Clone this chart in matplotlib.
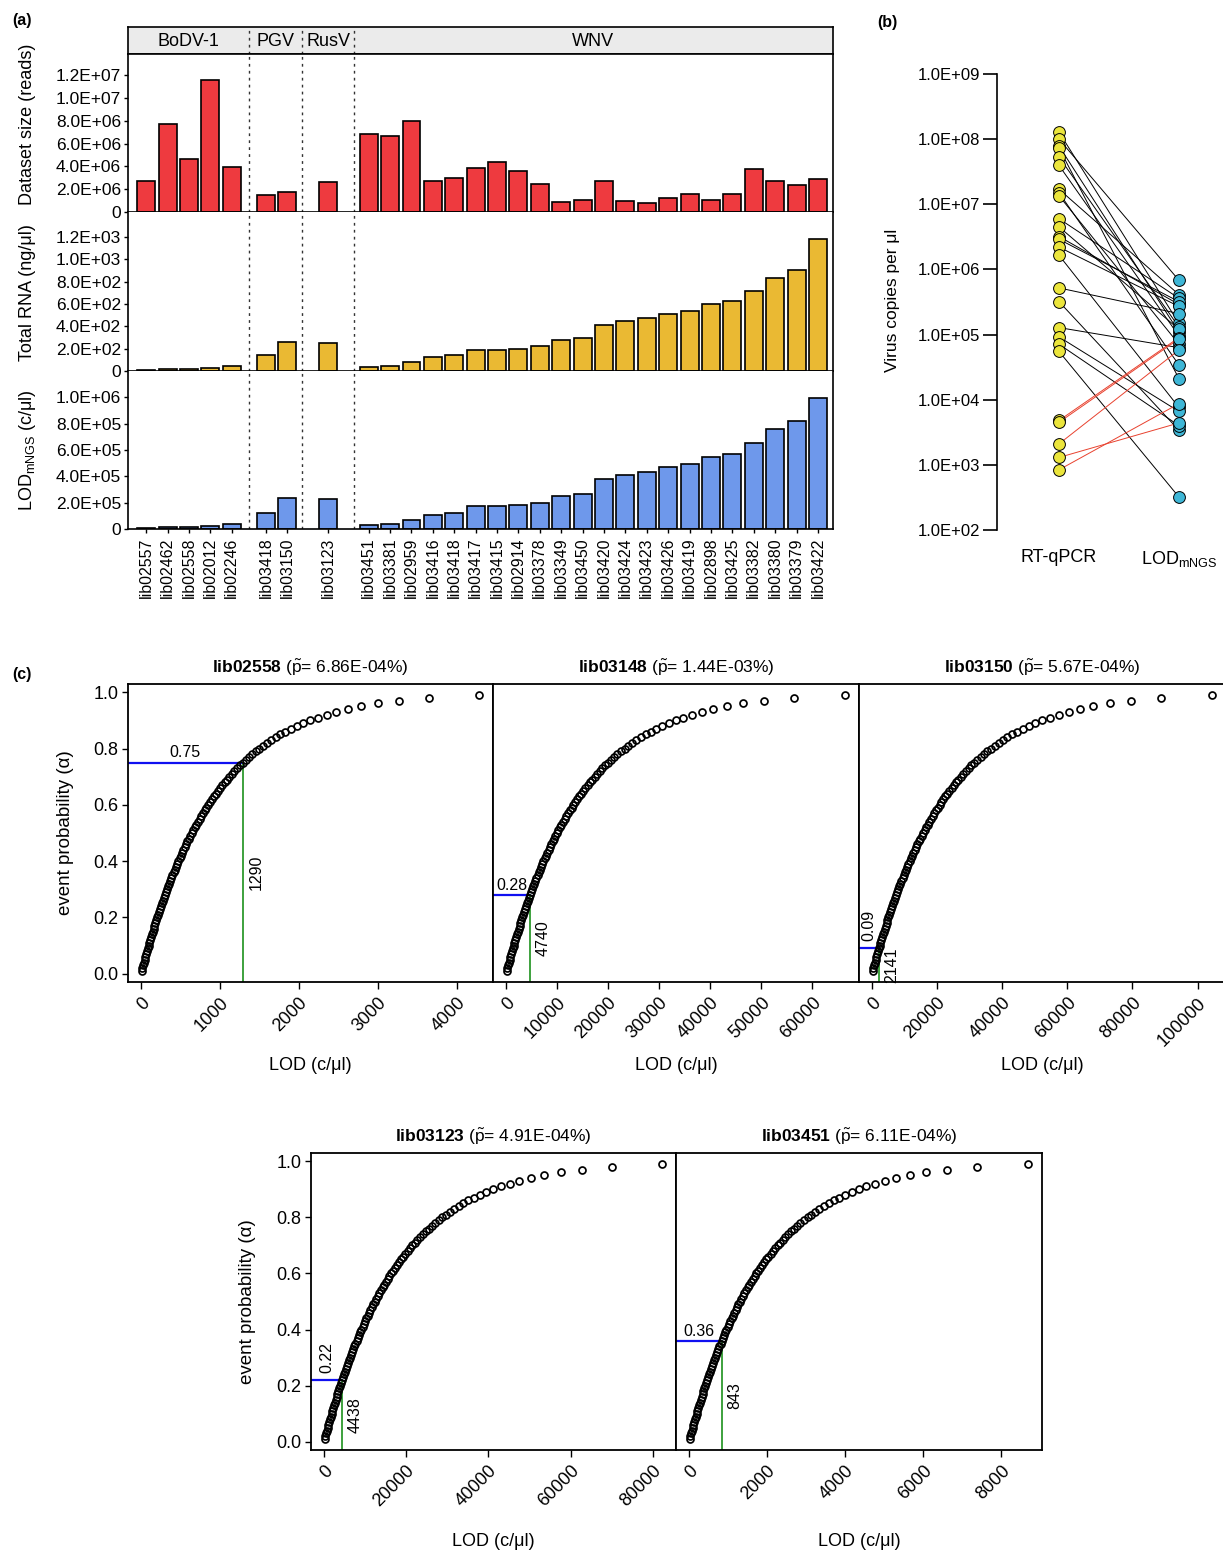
import numpy as np
import matplotlib
matplotlib.use("Agg")
import matplotlib.pyplot as plt

plt.rcParams['font.family'] = ['Liberation Sans', 'DejaVu Sans']
plt.rcParams['mathtext.fontset'] = 'custom'
plt.rcParams['mathtext.rm'] = 'Liberation Sans'
plt.rcParams['mathtext.it'] = 'Liberation Sans:italic'
plt.rcParams['mathtext.bf'] = 'Liberation Sans:bold'

# ---- panel (a) data ----
groups = ['BoDV-1', 'PGV', 'RusV', 'WNV']
group_libs = [
    ['lib02557', 'lib02462', 'lib02558', 'lib02012', 'lib02246'],
    ['lib03418', 'lib03150'],
    ['lib03123'],
    ['lib03451', 'lib03381', 'lib02959', 'lib03416', 'lib03418', 'lib03417',
     'lib03415', 'lib02914', 'lib03378', 'lib03349', 'lib03450', 'lib03420',
     'lib03424', 'lib03423', 'lib03426', 'lib03419', 'lib02898', 'lib03425',
     'lib03382', 'lib03380', 'lib03379', 'lib03422'],
]
dataset_size = [2.69e6, 7.68e6, 4.61e6, 11.56e6, 3.94e6,
                 1.46e6, 1.78e6,
                 2.66e6,
                 6.83e6, 6.69e6, 8.0e6, 2.69e6, 2.98e6, 3.88e6, 4.38e6, 3.56e6,
                 2.48e6, 0.85e6, 1.05e6, 2.74e6, 0.93e6, 0.79e6, 1.23e6, 1.61e6,
                 1.02e6, 1.58e6, 3.77e6, 2.74e6, 2.34e6, 2.92e6]
total_rna = [9, 18, 18, 30, 42,
             140, 263,
             251,
             39, 48, 84, 125, 140, 191, 191, 200, 221, 275, 296, 415, 451,
             478, 513, 540, 600, 624, 719, 836, 901, 1182]
lod_mngs = [5e3, 13e3, 13e3, 25e3, 35e3,
            124e3, 238e3,
            228e3,
            30e3, 38e3, 71e3, 106e3, 122e3, 172e3, 172e3, 180e3, 197e3, 248e3,
            266e3, 377e3, 408e3, 433e3, 471e3, 491e3, 547e3, 567e3, 656e3,
            762e3, 823e3, 997e3]

# ---- panel (b) data ----
qpcr = [1.28e8, 1.0e8, 7.8e7, 7.3e7, 5.3e7, 3.95e7, 1.7e7, 1.5e7, 1.35e7,
        6.0e6, 4.5e6, 3.2e6, 2.9e6, 2.2e6, 1.65e6, 5.2e5, 3.2e5, 1.28e5,
        9.2e4, 7.1e4, 5.5e4, 4.8e3, 4.5e3, 2.1e3, 1.3e3, 8.4e2]
lod_b = [1.48e5, 6.8e5, 1.09e5, 2.1e4, 1.3e5, 9.5e4, 4.1e5, 3.4e4, 7.1e4,
         3.6e5, 1.2e5, 2.9e5, 3.2e5, 2.7e5, 7.6e3, 2.1e5, 3.4e3, 6.3e4,
         6.6e3, 4.0e3, 3.2e2, 9.0e4, 8.6e4, 5.8e4, 4.4e3, 8.7e3]

# ---- panel (c) data ----
c_libs = ['lib02558', 'lib03148', 'lib03150', 'lib03123', 'lib03451']
c_ptilde = ['6.86E-04%', '1.44E-03%', '5.67E-04%', '4.91E-04%', '6.11E-04%']
c_alpha = [0.75, 0.28, 0.09, 0.22, 0.36]
c_lod = [1290, 4740, 2141, 4438, 843]
c_xstep = [1000, 10000, 20000, 20000, 2000]
alpha_levels = np.arange(1, 100) / 100

W, H = 1223, 1553
fig = plt.figure(figsize=(W / 100, H / 100), dpi=100)


def px_axes(l, t, r, b):
    return fig.add_axes([l / W, 1 - b / H, (r - l) / W, (b - t) / H])


def sci(v):
    return '0' if v == 0 else f'{v:.1E}'


# ================= (a) =================
group_start = [0, 5.6, 8.5, 10.4]
group_sep = [4.8, 7.3, 9.7]
x_lo, x_hi = -0.85, 32.1
xpos, xlabels = [], []
for s, libs in zip(group_start, group_libs):
    xpos += [s + i for i in range(len(libs))]
    xlabels += libs
xpos = np.array(xpos)

strip = px_axes(128, 27, 833, 54)
strip.set_facecolor('#EBEBEB')
strip.set_xlim(x_lo, x_hi)
strip.set_ylim(0, 1)
strip.set_xticks([])
strip.set_yticks([])
for sp in strip.spines.values():
    sp.set_linewidth(1.2)
bounds = [x_lo] + group_sep + [x_hi]
for i, g in enumerate(groups):
    strip.text((bounds[i] + bounds[i + 1]) / 2, 0.45, g, ha='center', va='center', fontsize=13)
for s in group_sep:
    strip.axvline(s, color='#333333', ls=(0, (2, 3)), lw=1)

rows = [
    (dataset_size, '#EE3A3F', 'Dataset size (reads)', 13.86e6, np.arange(0, 1.3e7, 2e6), (54, 212), 124),
    (total_rna, '#EAB933', 'Total RNA (ng/μl)', 1423, np.arange(0, 1300, 200), (212, 371), 293),
    (lod_mngs, '#6E98EB', r'LOD$_{\mathrm{mNGS}}$ (c/μl)', 1.2e6, np.arange(0, 1.1e6, 2e5), (371, 529), 450),
]
for r, (vals, col, lab, ytop, yt, (t, b), lab_y) in enumerate(rows):
    ax = px_axes(128, t, 833, b)
    ax.bar(xpos, vals, width=0.84, color=col, edgecolor='black', linewidth=1.2, zorder=2)
    ax.set_xlim(x_lo, x_hi)
    ax.set_ylim(0, ytop)
    ax.set_yticks(yt)
    ax.set_yticklabels([sci(v) for v in yt], fontsize=12.5)
    for s in group_sep:
        ax.axvline(s, color='#333333', ls=(0, (2, 3)), lw=1, zorder=1)
    for sp in ax.spines.values():
        sp.set_linewidth(1.2)
    if r > 0:
        ax.spines['top'].set_visible(False)
    ax.tick_params(axis='y', length=3, width=1, pad=2)
    if r == 2:
        ax.set_xticks(xpos)
        ax.set_xticklabels(xlabels, rotation=90, fontsize=11.5)
        ax.tick_params(axis='x', length=3, width=1, pad=3)
    else:
        ax.set_xticks([])
    fig.text(28 / W, 1 - lab_y / H, lab, rotation=90, ha='center', va='center', fontsize=13)

# ================= (b) =================
axb = px_axes(997, 74, 1223, 530)
axb.set_yscale('log')
axb.set_ylim(1e2, 1e9)
axb.set_xlim(0.483, 2.367)
for q, l in zip(qpcr, lod_b):
    axb.plot([1, 2], [q, l], color='#E8412E' if l > q else 'black', lw=0.7, zorder=1)
axb.plot(np.ones(len(qpcr)), qpcr, 'o', ms=8.5, mfc='#EBE53C', mec='black', mew=0.7,
         clip_on=False, zorder=3)
axb.plot(np.full(len(lod_b), 2), lod_b, 'o', ms=8.5, mfc='#3EB6D6', mec='black', mew=0.7,
         clip_on=False, zorder=3)
yt = [10.0 ** e for e in range(2, 10)]
axb.set_yticks(yt)
axb.set_yticklabels([f'{v:.1E}' for v in yt], fontsize=12)
axb.minorticks_off()
axb.tick_params(axis='y', length=10, width=1.2, pad=2)
axb.set_xticks([1, 2])
axb.set_xticklabels(['RT-qPCR', r'LOD$_{\mathrm{mNGS}}$'], fontsize=13)
axb.tick_params(axis='x', length=0, pad=14)
for k in ['top', 'right', 'bottom']:
    axb.spines[k].set_visible(False)
axb.spines['left'].set_linewidth(1.2)
fig.text(892 / W, 1 - 300 / H, 'Virus copies per μl', rotation=90, ha='center', va='center', fontsize=12.5)

# ================= (c) =================
c_boxes = [(128, 684, 493, 982), (493, 684, 859, 982), (859, 684, 1226, 982),
           (311, 1153, 676, 1450), (676, 1153, 1042, 1450)]
show_y = [True, False, False, True, False]
alpha_rot = [False, False, True, True, False]
xlab_y = [1065, 1065, 1065, 1541, 1541]
ylo, yhi = -0.0292, 1.0292
for i in range(5):
    l, t, r, b = c_boxes[i]
    ax = px_axes(l, t, r, b)
    k = c_lod[i] / -np.log1p(-c_alpha[i])
    xs = -k * np.log1p(-alpha_levels)
    pad = 0.04 * (xs.max() - xs.min())
    x0 = xs.min() - pad
    ax.set_xlim(x0, xs.max() + pad)
    ax.set_ylim(ylo, yhi)
    ax.plot([x0, c_lod[i]], [c_alpha[i], c_alpha[i]], color='#1010F0', lw=1.6, zorder=2)
    ax.plot([c_lod[i], c_lod[i]], [ylo, c_alpha[i]], color='#2E9A2E', lw=1.3, zorder=2)
    ax.plot(xs, alpha_levels, 'o', ms=5, mfc='none', mec='black', mew=1.25, zorder=3)
    xm = (x0 + c_lod[i]) / 2
    if alpha_rot[i]:
        ax.text(xm, c_alpha[i] + 0.025, f'{c_alpha[i]:.2f}', rotation=90, ha='center', va='bottom', fontsize=11.5)
    else:
        ax.text(xm, c_alpha[i] + 0.008, f'{c_alpha[i]:.2f}', ha='center', va='bottom', fontsize=11.5)
    ax.annotate(str(c_lod[i]), (c_lod[i], (ylo + c_alpha[i]) / 2), xytext=(4, 0),
                textcoords='offset points', rotation=90, ha='left', va='center', fontsize=11.5)
    xt = np.arange(0, xs.max() + 1, c_xstep[i])
    ax.set_xticks(xt)
    ax.set_xticklabels([str(int(v)) for v in xt], rotation=45, ha='right', va='top',
                       rotation_mode='anchor', fontsize=13)
    ax.tick_params(axis='x', length=5, width=1, pad=4)
    if show_y[i]:
        ax.set_yticks(np.arange(0, 1.01, 0.2))
        ax.set_yticklabels([f'{v:.1f}' for v in np.arange(0, 1.01, 0.2)], fontsize=13)
        ax.tick_params(axis='y', length=4, width=1, pad=3)
        fig.text((l - 63) / W, 1 - (t + b) / 2 / H, 'event probability (α)', rotation=90,
                 ha='center', va='center', fontsize=13.5)
    else:
        ax.tick_params(axis='y', left=False, labelleft=False)
    for sp in ax.spines.values():
        sp.set_linewidth(1.3)
    ax.set_title(r'$\mathbf{' + c_libs[i] + r'}$ ($\tilde{\mathrm{p}}$= ' + c_ptilde[i] + ')',
                 fontsize=12.5, pad=8)
    fig.text((l + r) / 2 / W, 1 - xlab_y[i] / H, 'LOD (c/μl)', ha='center', va='center', fontsize=13)

fig.text(22 / W, 1 - 20 / H, '(a)', fontweight='bold', ha='center', va='center', fontsize=11.5)
fig.text(887 / W, 1 - 22 / H, '(b)', fontweight='bold', ha='center', va='center', fontsize=11.5)
fig.text(22 / W, 1 - 675 / H, '(c)', fontweight='bold', ha='center', va='center', fontsize=11.5)

fig.savefig('out.png', dpi=100)
